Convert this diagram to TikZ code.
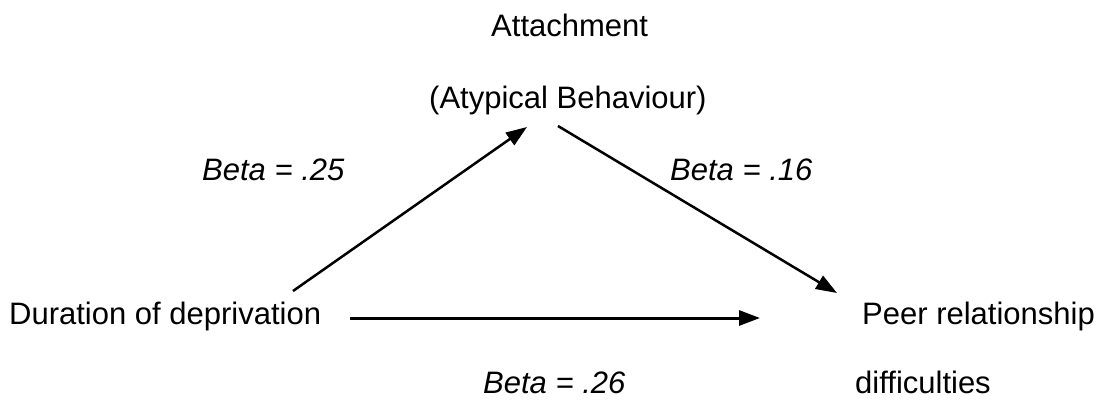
\documentclass[tikz,border=0pt]{standalone}
\usepackage{fontspec}
\setmainfont{Liberation Sans}
\usetikzlibrary{arrows.meta}
\begin{document}
\begin{tikzpicture}[x=1pt,y=-1pt,
  lbl/.style={anchor=base west,inner sep=0pt,font=\fontsize{31}{36}\selectfont},
  betalbl/.style={anchor=base west,inner sep=0pt,font=\fontsize{31}{36}\selectfont\itshape},
  conn/.style={line width=2.5pt,-{Triangle[length=21pt,width=15pt]}}]
\useasboundingbox (0,0) rectangle (1100,399);
\node[lbl] (att) at (491,36) {Attachment};
\node[lbl] (atyp) at (429,108) {(Atypical Behaviour)};
\node[betalbl] (b25) at (202,180) {Beta = .25};
\node[betalbl] (b16) at (670,180) {Beta = .16};
\node[lbl] (dur) at (9,324) {Duration of deprivation};
\node[lbl] (peer) at (862,324) {Peer relationship};
\node[betalbl] (b26) at (483,393) {Beta = .26};
\node[lbl] (diff) at (855,393) {difficulties};
\coordinate (durup) at (293,291);
\coordinate (attin) at (527,127);
\coordinate (attout) at (558,126);
\coordinate (peerin) at (837,293);
\coordinate (durright) at (350,318);
\coordinate (peerleft) at (760,318);
\draw[conn] (durup) -- (attin);
\draw[conn] (attout) -- (peerin);
\draw[conn,line width=3pt] (durright) -- (peerleft);
\end{tikzpicture}
\end{document}
